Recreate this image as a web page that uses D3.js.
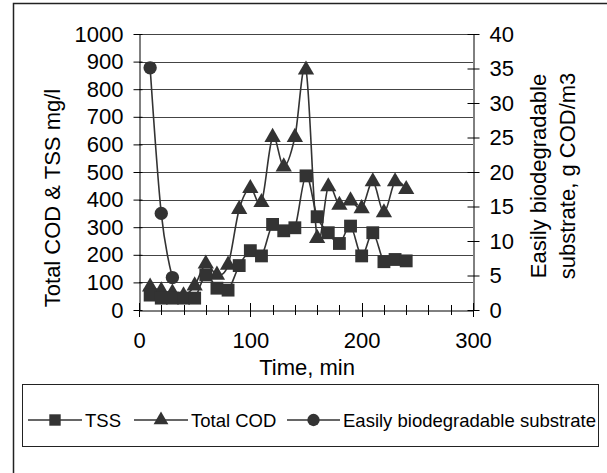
<!DOCTYPE html>
<html>
<head>
<meta charset="utf-8">
<script src="https://cdn.jsdelivr.net/npm/d3@7"></script>
<style>
  html, body { margin: 0; padding: 0; background: #fff; }
  text { font-family: "Liberation Sans", Arial, sans-serif; fill: #000; }
</style>
</head>
<body>
<svg id="chart" width="607" height="473"></svg>
<script>
// ---- data ----
const times = [10,20,30,40,50,60,70,80,90,100,110,120,130,140,150,160,170,180,190,200,210,220,230,240];
const tss = [54,43,43,43,43,127,79,72,161,215,196,310,287,298,486,338,280,241,304,196,280,175,183,178];
const totalCOD = [84,70,62,52,88,167,127,163,365,441,390,626,519,626,870,260,447,380,396,368,465,353,465,437];
const easyTimes = [10,20,30];
const easySubstrate = [35.1,14.0,4.7];
const leftTicks = [0,100,200,300,400,500,600,700,800,900,1000];
const rightTicks = [0,5,10,15,20,25,30,35,40];
const xTicks = [0,100,200,300];
const legendLabels = ["TSS","Total COD","Easily biodegradable substrate"];

const svg = d3.select("#chart");
const ink = "#333";
const FONT = "Liberation Sans, Arial, sans-serif";

// outer frame (cropped at right and bottom)
svg.append("rect").attr("x",13.5).attr("y",3.5).attr("width",620).attr("height",490)
  .attr("fill","none").attr("stroke","#222").attr("stroke-width",1.5);

const x = d3.scaleLinear().domain([0,300]).range([139,473]);
const yL = d3.scaleLinear().domain([0,1000]).range([310,34]);
const yR = d3.scaleLinear().domain([0,40]).range([310,34]);

// gridlines
svg.append("g").selectAll("line").data(leftTicks.filter(d=>d>0)).join("line")
  .attr("x1",139).attr("x2",473)
  .attr("y1",d=>Math.round(yL(d))+0.5).attr("y2",d=>Math.round(yL(d))+0.5)
  .attr("stroke","#444").attr("stroke-width",1);

// left axis
const gl = svg.append("g").attr("transform","translate(139.5,0)");
gl.call(d3.axisLeft(yL).tickValues(leftTicks).tickFormat(d3.format("d")).tickSizeInner(6).tickSizeOuter(0).tickPadding(10));
gl.select(".domain").attr("stroke","#000");
gl.selectAll(".tick line").attr("stroke","#000").attr("x2",-6).attr("x1",3);
gl.selectAll(".tick text").attr("font-size",22).attr("font-family",FONT);

// right axis
const gr = svg.append("g").attr("transform","translate(473.5,0)");
gr.call(d3.axisRight(yR).tickValues(rightTicks).tickFormat(d3.format("d")).tickSizeInner(6).tickSizeOuter(0).tickPadding(10));
gr.select(".domain").attr("stroke","#000");
gr.selectAll(".tick line").attr("stroke","#000").attr("x1",-6).attr("x2",6);
gr.selectAll(".tick text").attr("font-size",22).attr("font-family",FONT);

// bottom axis
const minor = d3.range(0,301,20);
svg.append("g").selectAll("line").data(minor).join("line")
  .attr("x1",d=>Math.round(x(d))+0.5).attr("x2",d=>Math.round(x(d))+0.5)
  .attr("y1",d=> d%100===0 ? 303 : 305).attr("y2",d=> d%100===0 ? 317 : 315)
  .attr("stroke","#000");
const gb = svg.append("g").attr("transform","translate(0,310.5)");
gb.call(d3.axisBottom(x).tickValues(xTicks).tickSize(0).tickPadding(22));
gb.select(".domain").attr("stroke","#000");
gb.selectAll(".tick text").attr("font-size",22).attr("font-family",FONT);

// axis titles
svg.append("text").attr("x",307).attr("y",375).attr("text-anchor","middle")
  .attr("font-size",22).text("Time, min");
svg.append("text").attr("transform","translate(60,198) rotate(-90)").attr("text-anchor","middle")
  .attr("font-size",22).text("Total COD & TSS mg/l");
const rt = svg.append("text").attr("transform","translate(546,176) rotate(-90)").attr("text-anchor","middle")
  .attr("font-size",22);
rt.append("tspan").attr("x",0).attr("dy",0).text("Easily biodegradable");
rt.append("tspan").attr("x",0).attr("dy",29).text("substrate, g COD/m3");

// lines
const lineL = d3.line().x(d=>x(d[0])).y(d=>yL(d[1])).curve(d3.curveCatmullRom.alpha(0));
const lineR = d3.line().x(d=>x(d[0])).y(d=>yR(d[1])).curve(d3.curveCatmullRom.alpha(0));
const tssPts = times.map((t,i)=>[t,tss[i]]);
const codPts = times.map((t,i)=>[t,totalCOD[i]]);
const easyPts = easyTimes.map((t,i)=>[t,easySubstrate[i]]);

const symSquare = d3.symbol().type(d3.symbolSquare).size(165);
const symTri = d3.symbol().type(d3.symbolTriangle).size(115);
const symCircle = d3.symbol().type(d3.symbolCircle).size(140);

function series(pts, lineGen, sym, ys) {
  svg.append("path").attr("d", lineGen(pts)).attr("fill","none").attr("stroke",ink).attr("stroke-width",1.6);
  svg.append("g").selectAll("path").data(pts).join("path")
    .attr("d", sym)
    .attr("transform", d=>`translate(${x(d[0])},${ys(d[1])})`)
    .attr("fill", ink);
}
series(codPts, lineL, symTri, yL);
series(tssPts, lineL, symSquare, yL);
series(easyPts, lineR, symCircle, yR);

// legend
svg.append("rect").attr("x",22.5).attr("y",384.5).attr("width",576).attr("height",62)
  .attr("fill","#fff").attr("stroke","#222").attr("stroke-width",1);
const legY = 420;
const legSymSq = d3.symbol().type(d3.symbolSquare).size(130);
const legSymTri = d3.symbol().type(d3.symbolTriangle).size(95);
const legSymCir = d3.symbol().type(d3.symbolCircle).size(120);
const legItems = [
  {x0:28, x1:82, tx:85, sym:legSymSq, label:legendLabels[0]},
  {x0:134, x1:188, tx:191, sym:legSymTri, label:legendLabels[1]},
  {x0:287, x1:340, tx:343, sym:legSymCir, label:legendLabels[2]}
];
const lg = svg.append("g").selectAll("g").data(legItems).join("g");
lg.append("line").attr("x1",d=>d.x0).attr("x2",d=>d.x1).attr("y1",legY).attr("y2",legY)
  .attr("stroke",ink).attr("stroke-width",1.6);
lg.append("path").attr("d",d=>d.sym()).attr("transform",d=>`translate(${(d.x0+d.x1)/2},${legY})`).attr("fill",ink);
lg.append("text").attr("x",d=>d.tx).attr("y",legY+7).attr("font-size",18.5).text(d=>d.label);
</script>
</body>
</html>
